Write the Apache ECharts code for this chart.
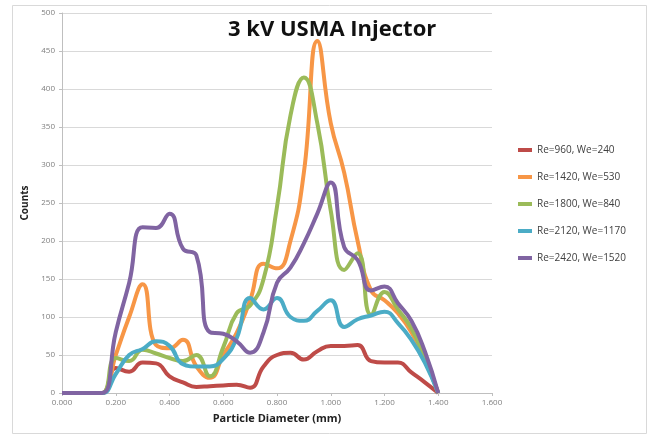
<!DOCTYPE html>
<html>
<head>
<meta charset="utf-8">
<script src="https://cdn.jsdelivr.net/npm/echarts@6/dist/echarts.min.js"></script>
<style>
  html, body { margin: 0; padding: 0; background: #fff; }
  #chart { width: 650px; height: 437px; }
</style>
</head>
<body>
<div id="chart"></div>
<script>
// particle diameter (mm), one value every 0.05
var diameters = [0.00, 0.05, 0.10, 0.15, 0.20, 0.25, 0.30, 0.35, 0.40, 0.45,
                 0.50, 0.55, 0.60, 0.65, 0.70, 0.75, 0.80, 0.85, 0.90, 0.95,
                 1.00, 1.05, 1.10, 1.15, 1.20, 1.25, 1.30, 1.35, 1.40];

var seriesNames = ['Re=960, We=240', 'Re=1420, We=530', 'Re=1800, We=840',
                   'Re=2120, We=1170', 'Re=2420, We=1520'];
var seriesColors = ['#BE4B48', '#F79646', '#9BBB59', '#4BACC6', '#8064A2'];

// counts
var re960  = [0, 0, 0, 0, 33, 28, 40, 39, 22, 14, 8, 9, 10, 11, 7, 35, 50, 53, 44, 55, 62, 62, 63, 42, 40, 40, 27, 14, 0];
var re1420 = [0, 0, 0, 0, 50, 100, 143, 63, 59, 70, 35, 20, 50, 79, 122, 170, 164, 200, 290, 463, 355, 290, 200, 135, 122, 105, 80, 45, 0];
var re1800 = [0, 0, 0, 0, 46, 42, 57, 52, 46, 42, 50, 22, 60, 105, 115, 150, 245, 365, 415, 355, 240, 162, 184, 103, 133, 110, 85, 45, 0];
var re2120 = [0, 0, 0, 0, 25, 50, 58, 68, 62, 38, 35, 35, 45, 72, 125, 110, 125, 100, 95, 108, 122, 87, 97, 102, 107, 92, 70, 40, 0];
var re2420 = [0, 0, 0, 0, 80, 145, 218, 217, 236, 190, 181, 80, 78, 68, 53, 80, 145, 165, 197, 236, 277, 192, 175, 135, 140, 118, 95, 55, 0];

var allCounts = [re960, re1420, re1800, re2120, re2420];

var chart = echarts.init(document.getElementById('chart'));

var series = allCounts.map(function (counts, i) {
  return {
    name: seriesNames[i],
    type: 'line',
    smooth: 0.5,
    showSymbol: false,
    symbol: 'none',
    lineStyle: { width: 4, color: seriesColors[i] },
    itemStyle: { color: seriesColors[i] },
    data: diameters.map(function (d, j) { return [d, counts[j]]; })
  };
});

chart.setOption({
  animation: false,
  backgroundColor: '#fff',
  textStyle: { fontFamily: 'Open Sans, sans-serif' },
  title: {
    text: '3 kV USMA Injector',
    left: 223,
    top: 14,
    textStyle: { fontSize: 22, fontWeight: 'bold', color: '#111', fontFamily: 'Open Sans' }
  },
  graphic: [{
    type: 'rect',
    shape: { x: 12.5, y: 5.5, width: 634, height: 428 },
    style: { fill: 'none', stroke: '#d9d9d9', lineWidth: 1 },
    z: -1
  }],
  legend: {
    orient: 'vertical',
    left: 513,
    top: 140,
    itemWidth: 14,
    itemHeight: 4,
    itemGap: 17,
    icon: 'rect',
    data: seriesNames,
    textStyle: { fontSize: 10, color: '#404040', fontFamily: 'Open Sans' }
  },
  grid: { left: 62, right: 158, top: 13, bottom: 44, containLabel: false },
  xAxis: {
    type: 'value',
    min: 0,
    max: 1.6,
    interval: 0.2,
    name: 'Particle Diameter (mm)',
    nameLocation: 'middle',
    nameGap: 20,
    nameTextStyle: { fontSize: 11, fontWeight: 'bold', color: '#222' },
    axisLine: { show: true, lineStyle: { color: '#bfbfbf' } },
    axisTick: { show: true, length: 3, lineStyle: { color: '#bfbfbf' } },
    axisLabel: {
      fontSize: 8, color: '#7f7f7f', margin: 6,
      formatter: function (v) { return v.toFixed(3); }
    },
    splitLine: { show: false }
  },
  yAxis: {
    type: 'value',
    min: 0,
    max: 500,
    interval: 50,
    name: 'Counts',
    nameLocation: 'middle',
    nameGap: 30,
    nameRotate: 90,
    nameTextStyle: { fontSize: 10, fontWeight: 'bold', color: '#222' },
    axisLine: { show: true, lineStyle: { color: '#bfbfbf' } },
    axisTick: { show: true, length: 3, lineStyle: { color: '#bfbfbf' } },
    axisLabel: { fontSize: 8, color: '#7f7f7f', margin: 7 },
    splitLine: { show: true, lineStyle: { color: '#d9d9d9', width: 1 } }
  },
  series: series
});
</script>
</body>
</html>
